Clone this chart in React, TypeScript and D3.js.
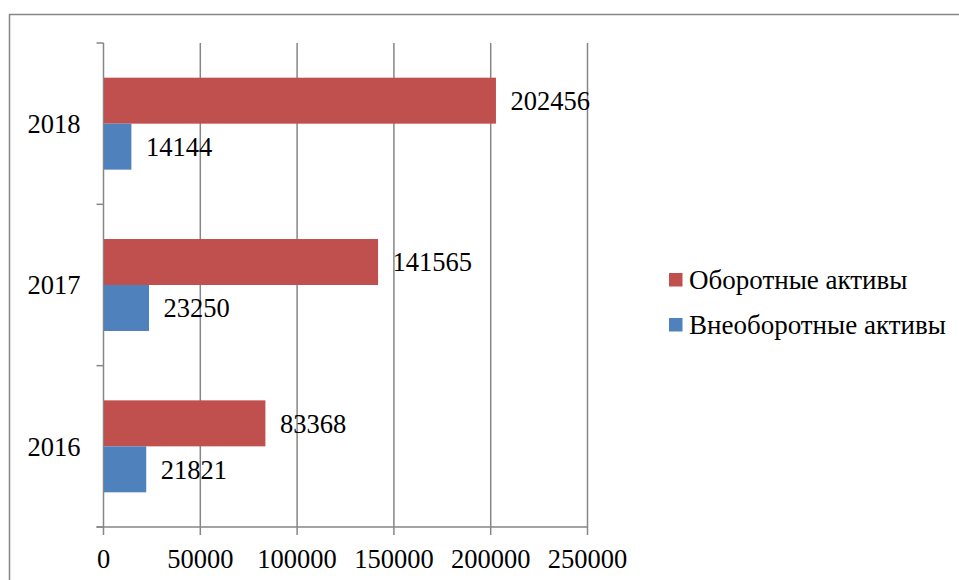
import React from "react";
import * as d3 from "d3";

// Asset structure by year
const years = ["2018", "2017", "2016"];
const currentAssets = [202456, 141565, 83368]; // Оборотные активы
const nonCurrentAssets = [14144, 23250, 21821]; // Внеоборотные активы
const xTicks = [0, 50000, 100000, 150000, 200000, 250000];
const seriesNames = ["Оборотные активы", "Внеоборотные активы"];
const seriesColors = ["#C0504D", "#4F81BD"];

const W = 959;
const H = 580;
const FONT = '"Liberation Serif", "Times New Roman", Tinos, "DejaVu Serif"';
const FS = 26.5;
const GRID = "#868686";
const textStyle = { fontFamily: FONT, fontSize: FS };
const legendStyle = { fontFamily: FONT, fontSize: 27 };

export default function App() {
  const plot = { left: 103.5, right: 587.5, top: 43, bottom: 527 };
  const x = d3.scaleLinear().domain([0, 250000]).range([plot.left, plot.right]);
  const y = d3.scaleBand().domain(years).range([plot.top, plot.bottom]).paddingInner(0.43).paddingOuter(0.215);
  const sub = d3.scaleBand().domain(["0", "1"]).range([0, y.bandwidth()]);
  const boundaries = d3.range(years.length + 1).map((i) => plot.top + (i * (plot.bottom - plot.top)) / years.length);
  const series = [currentAssets, nonCurrentAssets];

  return (
    <div style={{ position: "fixed", left: 0, top: 0 }}>
      <svg width={W} height={H} style={{ display: "block", background: "#fff" }}>
        <rect x={9.5} y={14.5} width={W + 10} height={H + 10} fill="#fff" stroke={GRID} strokeWidth={1.5} />
        {/* vertical gridlines */}
        {xTicks.map((t) => (
          <line key={"g" + t} x1={x(t)} x2={x(t)} y1={plot.top} y2={plot.bottom + 8} stroke={GRID} strokeWidth={1.5} />
        ))}
        {/* category axis ticks */}
        {boundaries.map((b, i) => (
          <line key={"yt" + i} x1={plot.left - 7} x2={plot.left} y1={b} y2={b} stroke={GRID} strokeWidth={1.5} />
        ))}
        <line x1={plot.left - 7} x2={plot.right} y1={plot.bottom} y2={plot.bottom} stroke={GRID} strokeWidth={1.5} />
        {/* bars */}
        {years.map((yr, i) =>
          series.map((s, k) => (
            <rect
              key={yr + k}
              x={x(0) + 0.5}
              y={(y(yr) as number) + (sub(String(k)) as number)}
              width={x(s[i]) - x(0)}
              height={sub.bandwidth()}
              fill={seriesColors[k]}
            />
          ))
        )}
        {/* value labels */}
        {years.map((yr, i) =>
          series.map((s, k) => (
            <text
              key={"l" + yr + k}
              x={x(s[i]) + 15}
              y={(y(yr) as number) + (sub(String(k)) as number) + sub.bandwidth() / 2}
              dy="0.35em"
              style={textStyle}
              fill="#000"
            >
              {s[i]}
            </text>
          ))
        )}
        {/* category labels */}
        {years.map((yr) => (
          <text
            key={"c" + yr}
            x={plot.left - 23}
            y={(y(yr) as number) + y.bandwidth() / 2}
            dy="0.35em"
            textAnchor="end"
            style={textStyle}
          >
            {yr}
          </text>
        ))}
        {/* value axis labels */}
        {xTicks.map((t) => (
          <text key={"xt" + t} x={x(t)} y={559} dy="0.35em" textAnchor="middle" style={textStyle}>
            {t}
          </text>
        ))}
        {/* legend */}
        {seriesNames.map((n, k) => (
          <g key={n} transform={`translate(669, ${279.5 + k * 45})`}>
            <rect x={0} y={-6.5} width={13.5} height={13.5} fill={seriesColors[k]} />
            <text x={20} y={0} dy="0.35em" style={legendStyle}>
              {n}
            </text>
          </g>
        ))}
      </svg>
    </div>
  );
}
